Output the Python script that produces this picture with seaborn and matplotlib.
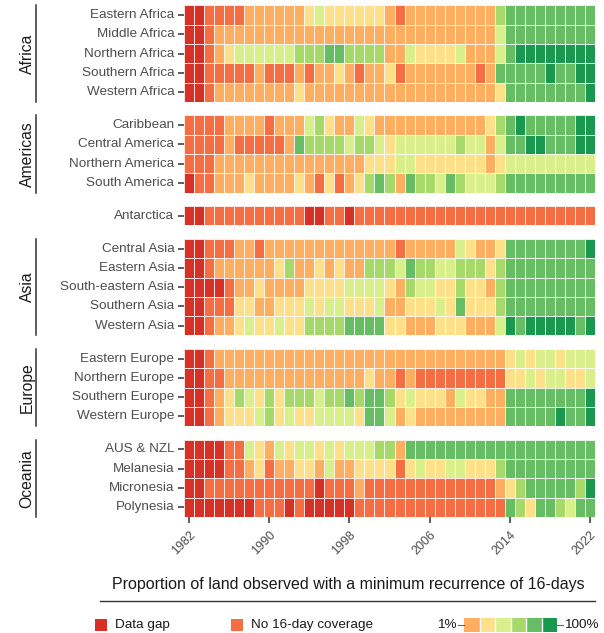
import matplotlib
matplotlib.use("Agg")
import matplotlib.pyplot as plt
from matplotlib.colors import ListedColormap
from matplotlib.lines import Line2D
from matplotlib.patches import Rectangle
import matplotlib.colorbar as mcolorbar
import pandas as pd
import seaborn as sns

plt.rcParams["font.family"] = ["Liberation Sans", "DejaVu Sans"]

years = list(range(1982, 2023))
year_ticks = [1982, 1990, 1998, 2006, 2014, 2022]

# Coverage class per year:
# 0 = data gap, 1 = no 16-day coverage, 2..7 = proportion bins from 1% to 100%
class_colors = ["#d73027", "#f46d43", "#fdae61", "#fee08b",
                "#d9ef8b", "#a6d96a", "#66bd63", "#1a9850"]
step_colors = class_colors[2:]

# Africa
eastern_africa = [0,0,1,1,1,1,2,2,2,2,2,2,3,4,3,3,3,3,3,3,2,1,2,2,2,2,2,2,2,2,2,5,6,6,6,6,6,6,6,6,6]
middle_africa = [0,0,1,2,2,2,2,2,2,2,2,2,2,2,2,2,2,2,2,2,2,2,2,2,2,2,2,2,2,2,2,4,6,6,6,6,6,6,6,6,6]
northern_africa = [0,0,1,2,3,4,4,4,4,4,4,5,5,5,6,6,5,5,5,5,2,2,4,3,3,3,3,4,2,2,2,4,6,7,7,7,7,7,7,7,7]
southern_africa = [0,0,1,1,1,1,1,2,1,1,1,2,1,2,2,3,2,1,2,2,3,1,2,2,2,2,2,2,2,1,2,6,6,6,6,6,7,6,6,7,7]
western_africa = [0,0,1,2,2,2,2,2,2,2,2,3,2,2,2,2,2,2,2,2,2,2,2,2,2,2,2,2,2,2,2,3,6,6,6,6,6,6,6,6,7]

# Americas
caribbean = [1,1,1,1,2,2,2,2,1,2,2,2,4,5,3,2,2,4,3,2,2,2,2,2,2,2,2,2,2,2,3,5,6,7,6,6,6,6,6,7,7]
central_america = [1,1,1,1,2,1,1,1,1,1,2,6,5,5,5,5,4,5,5,4,3,4,4,4,4,4,4,5,4,4,2,4,6,6,7,7,6,6,6,7,7]
northern_america = [1,1,1,2,2,2,2,2,2,2,2,2,2,2,2,2,2,2,3,3,3,4,4,3,3,3,3,3,3,3,2,3,4,4,4,4,4,4,4,4,4]
south_america = [0,1,1,2,2,2,3,2,2,2,2,3,2,1,3,1,2,3,5,6,5,2,6,5,5,4,6,5,4,4,4,5,6,6,6,6,6,6,6,6,6]

# Antarctica
antarctica = [0,0,1,1,1,1,1,1,1,1,1,1,0,0,1,1,0,1,1,1,1,1,1,1,1,1,1,1,1,1,1,1,1,1,1,1,1,1,1,1,1]

# Asia
central_asia = [0,0,1,1,1,2,2,1,2,2,2,2,2,2,2,2,2,2,2,2,2,1,2,2,2,2,2,4,3,2,2,3,6,6,6,6,6,6,6,6,7]
eastern_asia = [0,0,1,2,2,2,2,2,2,3,5,2,2,3,2,3,2,2,5,5,5,4,6,5,5,4,4,5,5,5,3,5,6,6,6,6,6,6,6,6,6]
south_eastern_asia = [0,0,0,0,1,2,2,3,2,2,2,2,3,3,3,3,4,4,4,4,3,2,5,4,4,3,3,5,3,3,2,5,6,6,6,6,6,6,6,6,6]
southern_asia = [0,0,1,1,1,3,3,2,2,3,3,3,4,3,4,4,3,3,3,4,2,2,3,3,3,4,3,6,3,3,3,5,6,6,6,6,6,6,6,6,6]
western_asia = [0,0,1,2,2,3,4,3,3,4,3,3,5,5,5,5,6,6,6,6,3,3,2,2,2,3,3,3,2,2,2,4,7,6,7,7,7,7,7,6,7]

# Europe
eastern_europe = [0,0,1,2,2,2,2,2,2,2,2,2,2,2,2,2,2,2,2,2,2,2,2,2,2,2,2,2,2,2,2,2,3,4,3,4,4,3,4,4,4]
northern_europe = [0,0,1,1,2,2,2,2,2,2,2,2,2,2,2,2,2,2,3,2,2,1,2,1,1,1,1,1,1,1,1,1,3,3,4,3,4,4,3,3,4]
southern_europe = [0,0,1,2,3,5,4,3,5,3,5,5,5,4,5,5,6,5,6,6,5,3,4,3,3,3,2,4,3,3,2,2,6,6,6,6,6,6,6,6,7]
western_europe = [0,0,1,2,3,3,3,4,5,3,4,3,3,4,4,4,4,3,6,6,4,2,3,2,2,2,2,2,2,2,2,2,6,6,6,6,6,7,6,6,7]

# Oceania
aus_nzl = [0,0,0,0,1,1,4,3,2,4,3,4,4,3,4,3,4,4,4,5,5,2,6,6,6,6,6,6,6,6,6,6,6,6,6,6,6,6,6,6,6]
melanesia = [0,0,0,0,1,1,2,3,1,2,2,3,3,2,4,2,2,3,3,3,3,1,3,4,3,3,4,4,3,3,3,5,6,6,6,6,6,6,6,6,6]
micronesia = [0,0,1,1,1,1,1,1,1,1,1,1,1,0,1,1,1,2,1,1,1,1,1,1,1,1,1,1,1,1,1,2,3,5,6,6,6,6,6,5,7]
polynesia = [0,0,0,0,0,0,0,1,1,1,0,1,0,0,0,0,0,1,1,1,1,1,1,1,1,1,1,1,1,1,1,1,6,5,3,6,6,5,4,6,6]

groups = [
    ("Africa", ["Eastern Africa", "Middle Africa", "Northern Africa", "Southern Africa", "Western Africa"],
     [eastern_africa, middle_africa, northern_africa, southern_africa, western_africa]),
    ("Americas", ["Caribbean", "Central America", "Northern America", "South America"],
     [caribbean, central_america, northern_america, south_america]),
    ("", ["Antarctica"], [antarctica]),
    ("Asia", ["Central Asia", "Eastern Asia", "South-eastern Asia", "Southern Asia", "Western Asia"],
     [central_asia, eastern_asia, south_eastern_asia, southern_asia, western_asia]),
    ("Europe", ["Eastern Europe", "Northern Europe", "Southern Europe", "Western Europe"],
     [eastern_europe, northern_europe, southern_europe, western_europe]),
    ("Oceania", ["AUS & NZL", "Melanesia", "Micronesia", "Polynesia"],
     [aus_nzl, melanesia, micronesia, polynesia]),
]

W, H = 604, 633
fig = plt.figure(figsize=(W / 100, H / 100), dpi=100)
fig.patch.set_facecolor("white")


def fx(px):
    return px / W


def fy(py):
    return 1 - py / H


cmap = ListedColormap(class_colors)
label_grey = "#4d4d4d"
tick_grey = "#333333"

x_left, x_right = 184, 595
y_top, row_h, gap = 5.4, 19.3, 13.5

for gi, (gname, rows, vals) in enumerate(groups):
    n = len(rows)
    h = n * row_h
    ax = fig.add_axes([fx(x_left), fy(y_top + h), (x_right - x_left) / W, h / H])
    df = pd.DataFrame(vals, index=rows, columns=years)
    last = gi == len(groups) - 1
    sns.heatmap(df, ax=ax, cmap=cmap, vmin=-0.5, vmax=7.5, cbar=False,
                linewidths=0.6, linecolor=(1, 1, 1, 0.85),
                xticklabels=False, yticklabels=rows)
    ax.set_yticklabels(rows, rotation=0)
    ax.tick_params(axis="y", length=4, width=1.1, color=tick_grey, pad=3,
                   labelsize=9.7, labelcolor=label_grey)
    ax.set_xlabel("")
    ax.set_ylabel("")
    if last:
        ax.set_xticks([years.index(y) + 0.5 for y in year_ticks])
        ax.set_xticklabels([str(y) for y in year_ticks], rotation=45,
                           ha="right", rotation_mode="anchor")
        ax.tick_params(axis="x", length=4, width=1.1, color=tick_grey, pad=5,
                       labelsize=9, labelcolor=label_grey, bottom=True)
    if gname:
        yc = y_top + h / 2
        fig.text(fx(27), fy(yc), gname, rotation=90, ha="center", va="center",
                 fontsize=11.3, color="#1a1a1a")
        fig.add_artist(Line2D([fx(36), fx(36)], [fy(y_top), fy(y_top + h)],
                              transform=fig.transFigure, color="#333333", lw=1.1))
    y_top += h + gap

# Legend block
fig.text(fx(348), fy(584), "Proportion of land observed with a minimum recurrence of 16-days",
         ha="center", va="center", fontsize=11.5, color="#1a1a1a")
fig.add_artist(Line2D([fx(100), fx(595)], [fy(601), fy(601)],
                      transform=fig.transFigure, color="#333333", lw=1.0))

legend_y = 625
for x0, label, col in [(95, "Data gap", class_colors[0]),
                       (231, "No 16-day coverage", class_colors[1])]:
    fig.add_artist(Rectangle((fx(x0), fy(legend_y + 6)), 12 / W, 12 / H,
                             transform=fig.transFigure, facecolor=col, edgecolor="none"))
    fig.text(fx(x0 + 20), fy(legend_y), label, ha="left", va="center",
             fontsize=9.7, color="#1a1a1a")

cax = fig.add_axes([fx(464), fy(legend_y + 7), 93 / W, 14 / H])
cb = mcolorbar.ColorbarBase(cax, cmap=ListedColormap(step_colors),
                            orientation="horizontal", drawedges=True)
cb.outline.set_visible(False)
cb.dividers.set_color("white")
cb.dividers.set_linewidth(1.0)
cb.set_ticks([])
for xa in (-0.06, 1.0):
    cax.plot([xa, xa + 0.06], [0.5, 0.5], transform=cax.transAxes, clip_on=False,
             color="#666666", lw=0.8)
fig.text(fx(457), fy(legend_y), "1%", ha="right", va="center", fontsize=9.7, color="#1a1a1a")
fig.text(fx(564), fy(legend_y), "100%", ha="left", va="center", fontsize=9.7, color="#1a1a1a")

fig.savefig("out.png", dpi=100, facecolor="white")
